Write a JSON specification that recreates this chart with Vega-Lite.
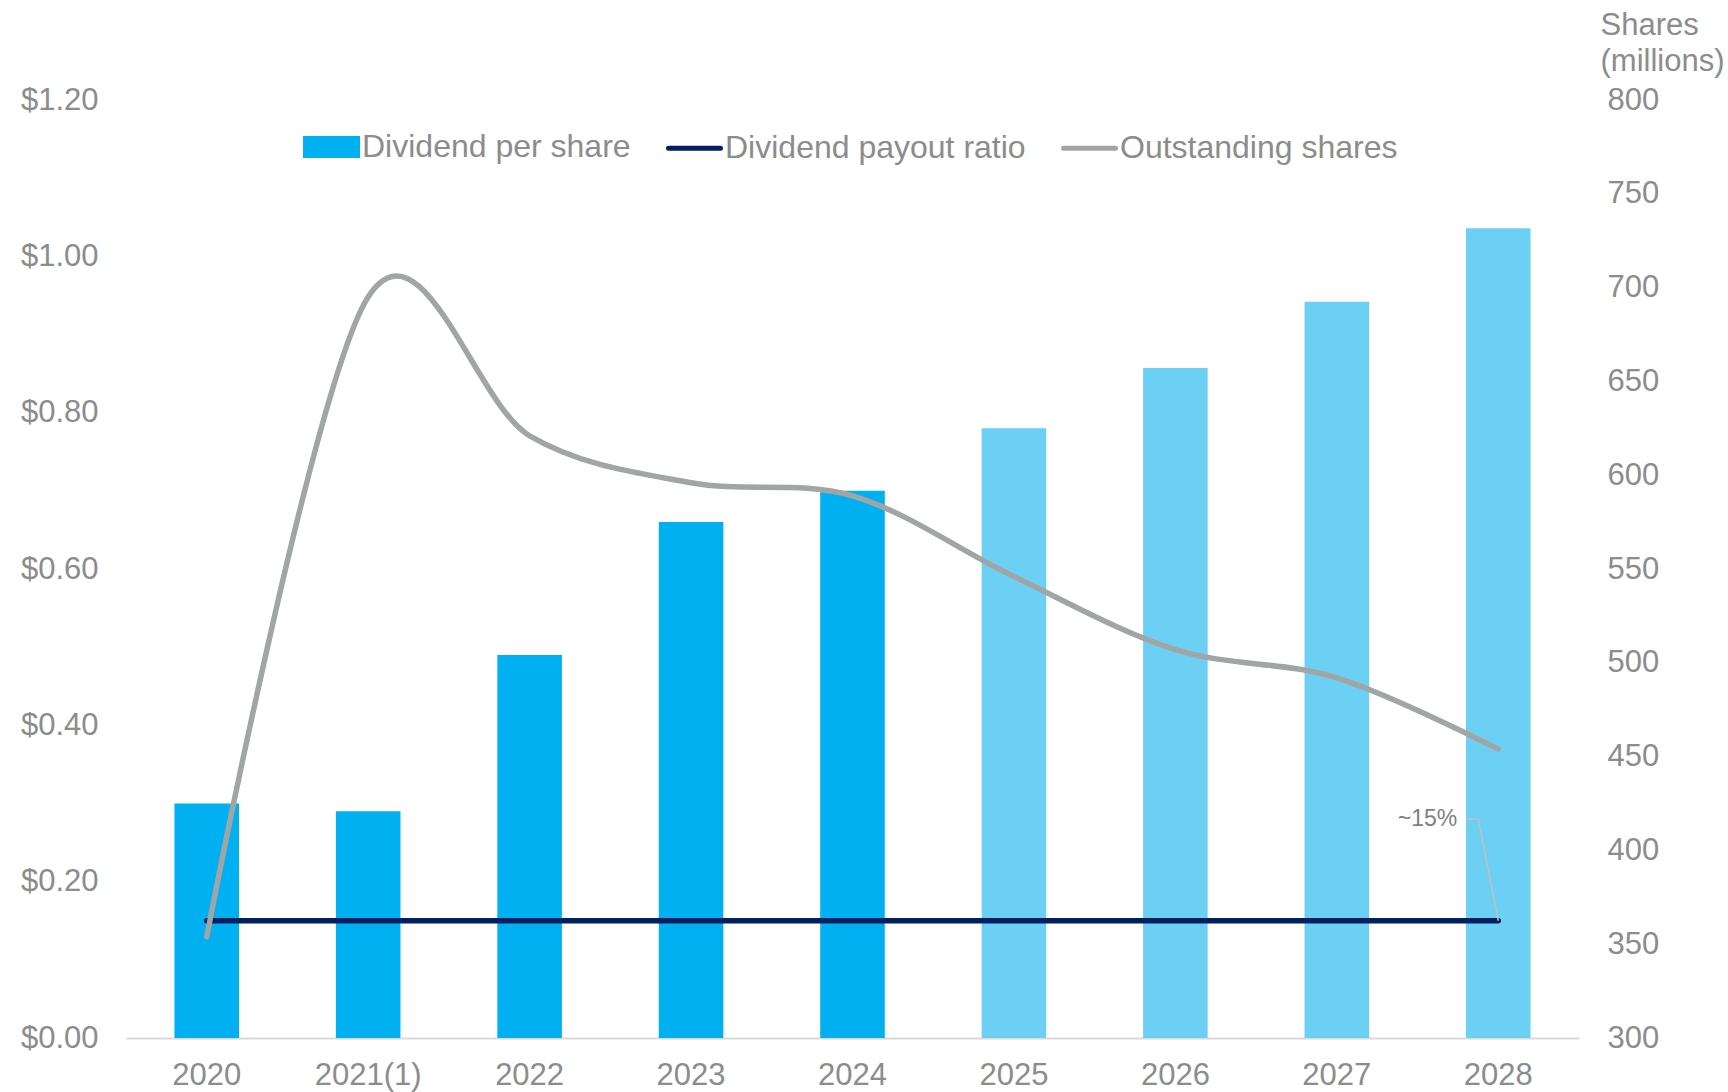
{
  "$schema": "https://vega.github.io/schema/vega-lite/v6.json",
  "width": 1453,
  "height": 938,
  "autosize": {"type": "none"},
  "padding": {"left": 126, "top": 100, "right": 149, "bottom": 54},
  "background": "white",
  "config": {
    "view": {"stroke": null},
    "font": "Liberation Sans",
    "axis": {"labelFont": "Liberation Sans", "titleFont": "Liberation Sans", "labelColor": "#8C8C8C", "titleColor": "#8C8C8C", "grid": false, "ticks": false, "tickSize": 0},
    "legend": {"labelFont": "Liberation Sans"}
  },
  "data": {
    "values": [
      {"year": "2020", "dps": 0.30, "payout": 0.15, "shares": 354, "kind": "Actual"},
      {"year": "2021(1)", "dps": 0.29, "payout": 0.15, "shares": 695, "kind": "Actual"},
      {"year": "2022", "dps": 0.49, "payout": 0.15, "shares": 621, "kind": "Actual"},
      {"year": "2023", "dps": 0.66, "payout": 0.15, "shares": 596, "kind": "Actual"},
      {"year": "2024", "dps": 0.70, "payout": 0.15, "shares": 589, "kind": "Actual"},
      {"year": "2025", "dps": 0.78, "payout": 0.15, "shares": 546, "kind": "Forecast"},
      {"year": "2026", "dps": 0.857, "payout": 0.15, "shares": 507, "kind": "Forecast"},
      {"year": "2027", "dps": 0.942, "payout": 0.15, "shares": 492, "kind": "Forecast"},
      {"year": "2028", "dps": 1.036, "payout": 0.15, "shares": 454, "kind": "Forecast"}
    ]
  },
  "encoding": {
    "x": {
      "field": "year",
      "type": "ordinal",
      "sort": null,
      "scale": {"paddingInner": 0.6, "paddingOuter": 0.3},
      "axis": {
        "title": null,
        "labelAngle": 0,
        "labelFontSize": 31,
        "labelPadding": 46,
        "labelBaseline": "alphabetic",
        "domain": true,
        "domainColor": "#D9D9D9",
        "domainWidth": 2
      }
    }
  },
  "layer": [
    {
      "mark": {"type": "bar"},
      "encoding": {
        "y": {
          "field": "dps",
          "type": "quantitative",
          "scale": {"domain": [0, 1.2], "nice": false},
          "axis": {
            "orient": "left",
            "title": null,
            "values": [0, 0.2, 0.4, 0.6, 0.8, 1.0, 1.2],
            "format": "$.2f",
            "labelFontSize": 31,
            "labelPadding": 28,
            "domain": false
          }
        },
        "fill": {
          "condition": {"test": "datum.kind === 'Forecast'", "value": "#6CD0F5"},
          "value": "#00B0F0"
        }
      }
    },
    {
      "mark": {"type": "line", "strokeWidth": 5.5, "strokeCap": "round"},
      "encoding": {
        "y": {"field": "payout", "type": "quantitative", "scale": {"domain": [0, 1.2], "nice": false}, "axis": null},
        "color": {
          "datum": "Dividend payout ratio",
          "type": "nominal",
          "scale": {
            "domain": ["Dividend per share", "Dividend payout ratio", "Outstanding shares"],
            "range": ["#00B0F0", "#002060", "#A2A5A5"]
          },
          "legend": {
            "orient": "none",
            "legendX": 177,
            "legendY": 18,
            "direction": "horizontal",
            "title": null,
            "labelFontSize": 32,
            "labelColor": "#8C8C8C",
            "labelLimit": 0,
            "labelOffset": 2,
            "columnPadding": 27,
            "symbolSize": 2704,
            "symbolStrokeWidth": 5,
            "symbolType": "stroke",
            "encode": {
              "symbols": {
                "update": {
                  "shape": {"signal": "datum.value === 'Dividend per share' ? 'M-1,-0.33L1,-0.33L1,0.33L-1,0.33Z' : 'stroke'"},
                  "fill": {"signal": "datum.value === 'Dividend per share' ? '#00B0F0' : 'transparent'"},
                  "stroke": {"signal": "datum.value === 'Dividend per share' ? 'transparent' : (datum.value === 'Dividend payout ratio' ? '#002060' : '#A2A5A5')"},
                  "strokeWidth": {"value": 5},
                  "strokeCap": {"value": "round"}
                }
              }
            }
          }
        }
      }
    },
    {
      "mark": {"type": "line", "strokeWidth": 5.5, "strokeCap": "round", "interpolate": "cardinal", "tension": 0},
      "encoding": {
        "y": {
          "field": "shares",
          "type": "quantitative",
          "scale": {"domain": [300, 800], "nice": false, "zero": false},
          "axis": {
            "orient": "right",
            "values": [300, 350, 400, 450, 500, 550, 600, 650, 700, 750, 800],
            "labelFontSize": 31,
            "labelPadding": 28,
            "domain": false,
            "title": ["Shares", "(millions)"],
            "titleFontSize": 31,
            "titleFontWeight": "normal",
            "titleAngle": 0,
            "titleAlign": "left",
            "titleBaseline": "alphabetic",
            "titleX": 21,
            "titleY": -66,
            "titleLineHeight": 36
          }
        },
        "color": {
          "datum": "Outstanding shares",
          "type": "nominal",
          "scale": {
            "domain": ["Dividend per share", "Dividend payout ratio", "Outstanding shares"],
            "range": ["#00B0F0", "#002060", "#A2A5A5"]
          }
        }
      }
    },
    {
      "data": {"values": [{"year": "2028", "label": "~15%", "ytext": 0.28, "yend": 0.15}]},
      "layer": [
        {
          "mark": {"type": "rule", "color": "#BFBFBF", "strokeWidth": 1.5, "xOffset": -32, "x2Offset": -20},
          "encoding": {
            "x2": {"field": "year"},
            "y": {"field": "ytext", "type": "quantitative", "scale": {"domain": [0, 1.2], "nice": false}, "axis": null}
          }
        },
        {
          "mark": {"type": "rule", "color": "#BFBFBF", "strokeWidth": 1.5, "xOffset": -20, "x2Offset": 0},
          "encoding": {
            "x2": {"field": "year"},
            "y": {"field": "ytext", "type": "quantitative", "scale": {"domain": [0, 1.2], "nice": false}, "axis": null},
            "y2": {"field": "yend"}
          }
        },
        {
          "mark": {"type": "text", "align": "right", "baseline": "middle", "dx": -41, "fontSize": 23, "color": "#7F7F7F", "font": "Liberation Sans"},
          "encoding": {
            "text": {"field": "label"},
            "y": {"field": "ytext", "type": "quantitative", "scale": {"domain": [0, 1.2], "nice": false}, "axis": null}
          }
        }
      ]
    }
  ],
  "resolve": {"scale": {"y": "independent"}, "axis": {"y": "independent"}}
}
